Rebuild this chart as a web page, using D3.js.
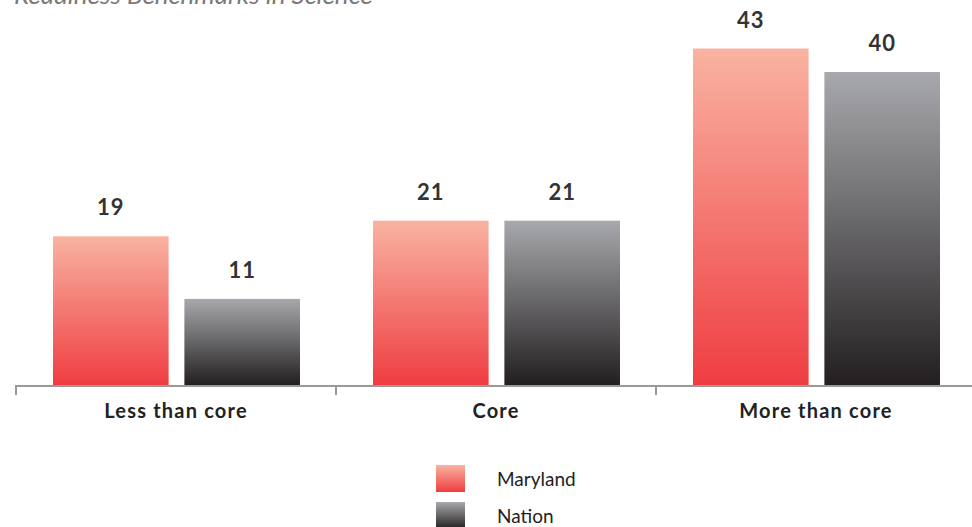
<!DOCTYPE html>
<html>
<head>
<meta charset="utf-8">
<script src="https://cdn.jsdelivr.net/npm/d3@7"></script>
<style>
  body { margin: 0; background: #fff; }
  svg { display: block; font-family: 'Lato', 'Open Sans', sans-serif; }
</style>
</head>
<body>
<svg width="972" height="527"></svg>
<script>
let categories = ['Less than core', 'Core', 'More than core'];
let seriesNames = ['Maryland', 'Nation'];
let maryland = [19, 21, 43];
let nation = [11, 21, 40];
let title = 'Readiness Benchmarks in Science';

document.addEventListener('DOMContentLoaded', function() {
    let svg = d3.select('svg');

    let baseY = 385;
    let x = d3.scaleBand().domain(categories).range([16, 976]);
    let inner = d3.scaleBand().domain(seriesNames).range([37, 284]).paddingInner(0.12);
    let y = d3.scaleLinear().domain([0, 49.2]).range([baseY, 0]);

    let defs = svg.append('defs');
    let grads = [
        { id: 'g-md', top: '#f9b3a1', bottom: '#ef3d42' },
        { id: 'g-na', top: '#a8a9ad', bottom: '#231f20' }
    ];
    grads.forEach(function(g) {
        let lg = defs.append('linearGradient').attr('id', g.id)
            .attr('x1', 0).attr('y1', 0).attr('x2', 0).attr('y2', 1);
        lg.append('stop').attr('offset', '0%').attr('stop-color', g.top);
        lg.append('stop').attr('offset', '100%').attr('stop-color', g.bottom);
    });
    let fillFor = { 'Maryland': 'url(#g-md)', 'Nation': 'url(#g-na)' };

    // title (clipped at top like the original)
    svg.append('text')
        .attr('x', 14).attr('y', 4)
        .attr('font-size', 26)
        .attr('font-style', 'italic')
        .attr('fill', '#7a7a7a')
        .text(title);

    let rows = [];
    categories.forEach(function(c, i) {
        rows.push({ cat: c, series: 'Maryland', value: maryland[i] });
        rows.push({ cat: c, series: 'Nation', value: nation[i] });
    });

    svg.append('g').selectAll('rect')
        .data(rows)
        .join('rect')
        .attr('x', d => x(d.cat) + inner(d.series))
        .attr('y', d => y(d.value))
        .attr('width', inner.bandwidth())
        .attr('height', d => baseY - y(d.value))
        .attr('fill', d => fillFor[d.series]);

    svg.append('g').selectAll('text')
        .data(rows)
        .join('text')
        .attr('x', d => x(d.cat) + inner(d.series) + inner.bandwidth() / 2)
        .attr('y', d => y(d.value) - 21)
        .attr('text-anchor', 'middle')
        .attr('font-size', 22)
        .attr('font-weight', 'bold')
        .attr('letter-spacing', 1)
        .attr('fill', '#333')
        .text(d => d.value);

    // axis
    let axis = svg.append('g').attr('stroke', '#999').attr('stroke-width', 2);
    axis.append('line')
        .attr('x1', 16).attr('x2', 972)
        .attr('y1', baseY + 1).attr('y2', baseY + 1);
    axis.selectAll('line.tick')
        .data(categories.concat(['end']))
        .join('line')
        .attr('class', 'tick')
        .attr('x1', (d, i) => 16 + i * x.bandwidth())
        .attr('x2', (d, i) => 16 + i * x.bandwidth())
        .attr('y1', baseY).attr('y2', baseY + 10);

    svg.append('g').selectAll('text')
        .data(categories)
        .join('text')
        .attr('x', d => x(d) + x.bandwidth() / 2)
        .attr('y', 418)
        .attr('text-anchor', 'middle')
        .attr('font-size', 20)
        .attr('font-weight', 'bold')
        .attr('letter-spacing', 1.2)
        .attr('fill', '#222')
        .text(d => d);

    // legend
    let legend = svg.append('g').selectAll('g')
        .data(seriesNames)
        .join('g')
        .attr('transform', (d, i) => 'translate(436,' + (465 + i * 37) + ')');
    legend.append('rect')
        .attr('width', 29).attr('height', 27)
        .attr('fill', d => fillFor[d]);
    legend.append('text')
        .attr('x', 61).attr('y', 21)
        .attr('font-size', 19)
        .attr('fill', '#222')
        .text(d => d);
});
</script>
</body>
</html>
